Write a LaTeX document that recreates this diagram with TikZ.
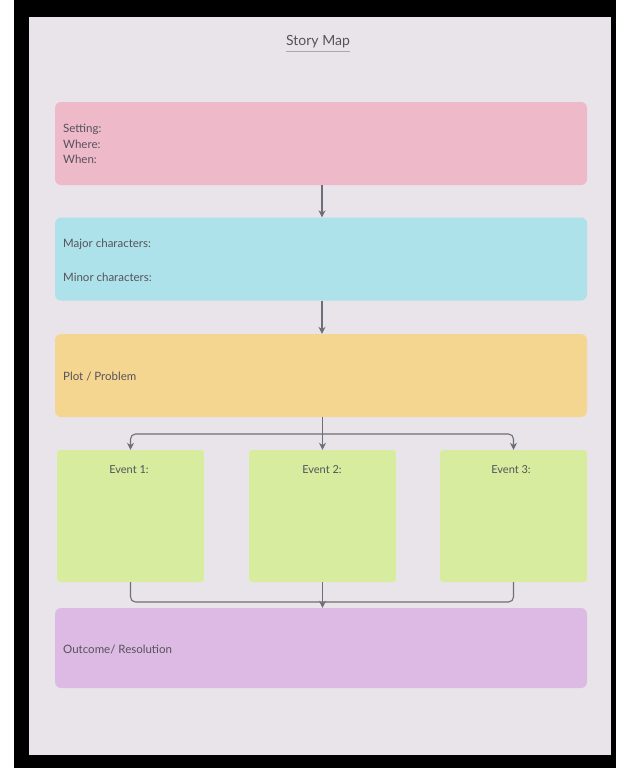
\documentclass[tikz,border=0pt]{standalone}
\usepackage{fontspec}
\setmainfont{Lato}
\usetikzlibrary{arrows.meta}
\definecolor{pagebg}{HTML}{E9E4EA}
\definecolor{cpink}{HTML}{EEB9C9}
\definecolor{ccyan}{HTML}{AEE2EA}
\definecolor{corange}{HTML}{F5D691}
\definecolor{cgreen}{HTML}{D8EC9F}
\definecolor{cpurple}{HTML}{DDBAE4}
\definecolor{linecol}{HTML}{6E6E78}
\definecolor{txtcol}{HTML}{55525A}
\tikzset{
  band/.style={rounded corners=6pt, inner sep=0pt, minimum width=532pt, minimum height=83pt, draw=none},
  evbox/.style={rounded corners=3pt, inner sep=0pt, minimum width=147pt, minimum height=132pt, draw=none, fill=cgreen},
  lbl/.style={anchor=west, inner sep=0pt, text=txtcol, font=\fontsize{11.5}{15.5}\selectfont, align=left},
  evlbl/.style={inner sep=0pt, text=txtcol, font=\fontsize{11}{13}\selectfont},
  conn/.style={draw=linecol, line width=1.1pt, rounded corners=5pt},
  arr/.style={conn, -{Stealth[length=7pt,width=7pt]}}
}
\begin{document}
\begin{tikzpicture}[x=1pt,y=-1pt]
\useasboundingbox (0,0) rectangle (623,768);
\fill[white] (0,0) rectangle (623,768);
\fill[black] (14,0) rectangle (616,768);
\fill[pagebg] (29,17) rectangle (611,755);
% title
\node[inner sep=0pt, text=txtcol, font=\fontsize{14}{16}\selectfont] (title) at (318,42) {Story Map};
\draw[linecol!60, line width=0.6pt] ([yshift=-3pt]title.south west) -- ([yshift=-3pt]title.south east);
% bands
\node[band, fill=cpink]   (setting) at (321,143.5) {};
\node[band, fill=ccyan]   (chars)   at (321,259) {};
\node[band, fill=corange] (plot)    at (321,375.5) {};
\node[band, fill=cpurple, minimum height=80pt] (outcome) at (321,648) {};
% events
\node[evbox] (ev1) at (130.5,516) {};
\node[evbox] (ev2) at (322.5,516) {};
\node[evbox] (ev3) at (513.5,516) {};
% texts
\node[lbl] (t1) at (63,144) {Setting:\\Where:\\When:};
\node[lbl] (t2) at (63,244) {Major characters:};
\node[lbl] (t3) at (63,277) {Minor characters:};
\node[lbl] (t4) at (63,377) {Plot / Problem};
\node[lbl] (t5) at (63,650) {Outcome/ Resolution};
\node[evlbl] (e1) at (129,470) {Event 1:};
\node[evlbl] (e2) at (322,470) {Event 2:};
\node[evlbl] (e3) at (511,470) {Event 3:};
% connectors
\coordinate (brTop) at (322,434);
\coordinate (brBot) at (322,602);
\draw[arr] (setting.south -| 322,0) -- (chars.north -| 322,0);
\draw[arr] (chars.south -| 322,0) -- (plot.north -| 322,0);
\draw[arr] (plot.south -| ev2.north) -- (ev2.north);
\draw[arr] (brTop) -| (ev1.north);
\draw[arr] (brTop) -| (ev3.north);
\draw[conn] (ev1.south) |- (brBot) -| (ev3.south);
\draw[arr] (ev2.south) -- (outcome.north -| ev2.south);
\end{tikzpicture}
\end{document}
